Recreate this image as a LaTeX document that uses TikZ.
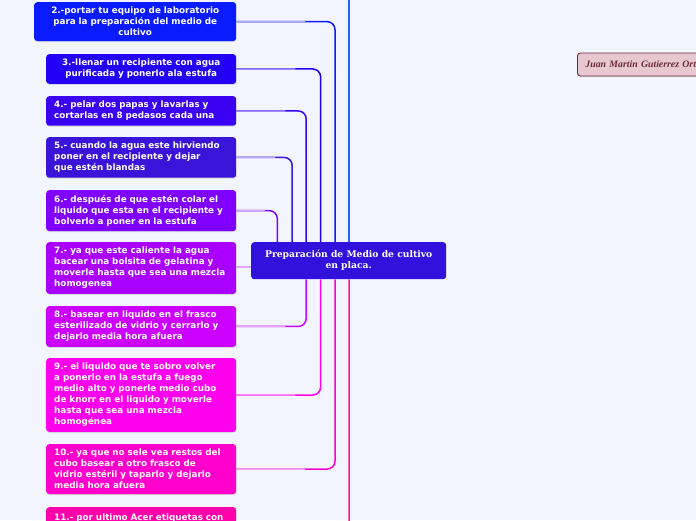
\documentclass[tikz,border=0pt]{standalone}
\usepackage{fontspec}
\setsansfont{DejaVu Sans}
\newfontfamily\titlefont{DejaVu Serif}
\newfontfamily\namefont{Liberation Serif}
\usepackage{tikz}
\usetikzlibrary{calc,shadows}

\definecolor{bgcol}{HTML}{F2F5FD}
\definecolor{c1}{HTML}{1A66FF}
\definecolor{c2}{HTML}{0B1BFF}
\definecolor{c3}{HTML}{2200F5}
\definecolor{c4}{HTML}{3A00F2}
\definecolor{c5}{HTML}{3A14D8}
\definecolor{c6}{HTML}{8000FF}
\definecolor{c7}{HTML}{AA00FF}
\definecolor{c8}{HTML}{CC00FF}
\definecolor{c9}{HTML}{FF00EE}
\definecolor{c10}{HTML}{FF00CC}
\definecolor{c11}{HTML}{FF00AA}
\definecolor{l11}{HTML}{FF1493}
\definecolor{maincol}{HTML}{3311DD}
\definecolor{namefill}{HTML}{E8C8D0}
\definecolor{nameline}{HTML}{6B2A3A}

\begin{document}
\begin{tikzpicture}[x=1pt,y=-1pt,
  stepbox/.style={fill=#1, text=white, rounded corners=3pt, anchor=north west,
    inner xsep=8pt, inner ysep=5pt, text width=174pt, align=left,
    font=\sffamily\bfseries\fontsize{8.8}{11}\selectfont,
    drop shadow={shadow xshift=0pt, shadow yshift=-1pt, opacity=.25}},
  link/.style={draw=#1, line width=1.5pt, rounded corners=8pt},
  fade/.style={draw=#1!35!white, line width=1.3pt}]
  \path[use as bounding box, clip] (0,0) rectangle (696,520);
  \fill[bgcol] (0,0) rectangle (696,520);

  % central topic
  \node[fill=maincol, text=white, rounded corners=3pt, minimum width=195pt,
    minimum height=37pt, align=center, font=\titlefont\bfseries\fontsize{9.2}{11}\selectfont,
    anchor=north west] (main) at (251,242) {Preparación de Medio de cultivo\\en placa.};

  % steps
  \node[stepbox=c2, text width=186pt, align=center] (s2) at (34,2)
    {2.-portar tu equipo de laboratorio\\para la preparación del medio de\\cultivo};
  \node[stepbox=c3, align=center] (s3) at (46,54)
    {3.-llenar un recipiente con agua\\purificada y ponerlo ala estufa};
  \node[stepbox=c4] (s4) at (46,96)
    {4.- pelar dos papas y lavarlas y\\cortarlas en 8 pedasos  cada una};
  \node[stepbox=c5] (s5) at (46,137)
    {5.- cuando la agua este hirviendo\\poner  en el recipiente  y dejar\\que estén blandas};
  \node[stepbox=c6] (s6) at (46,190)
    {6.- después de que estén colar el\\liquido que  esta en el recipiente y\\bolverlo a poner en la estufa};
  \node[stepbox=c7] (s7) at (46,242)
    {7.- ya que este caliente la agua\\bacear una bolsita de gelatina  y\\moverle hasta que sea una mezcla\\homogenea};
  \node[stepbox=c8] (s8) at (46,306)
    {8.- basear en liquido en el frasco\\esterilizado de vidrio y cerrarlo y\\dejarlo media hora afuera};
  \node[stepbox=c9] (s9) at (46,358)
    {9.- el liquido que te sobro  volver\\a  ponerlo en la estufa  a fuego\\medio alto y ponerle medio cubo\\de knorr en el liquido y moverle\\hasta que sea una mezcla\\homogénea};
  \node[stepbox=c10] (s10) at (46,444)
    {10.- ya que no sele vea restos del\\cubo basear  a otro frasco de\\vidrio  estéril y taparlo y dejarlo\\media hora afuera};
  \node[stepbox=c11, minimum height=50pt, text depth=30pt] (s11) at (46,507)
    {11.- por ultimo Acer etiquetas con};

  % author
  \node[fill=namefill, draw=nameline, line width=.9pt, rounded corners=3pt,
    anchor=west, text width=150pt, align=left, inner xsep=8pt, minimum height=23pt,
    text=nameline, font=\namefont\bfseries\itshape\fontsize{9.8}{11}\selectfont,
    drop shadow={shadow xshift=0pt, shadow yshift=-1pt, opacity=.25}]
    (author) at (577,64.5) {Juan Martin Gutierrez Ort};

  % connectors above
  \coordinate (s1) at (349,-5);
  \draw[link=c1] (s1) -- (s1 |- main.north);
  \foreach \n/\c/\d in {s2/c2/84, s3/c3/69.7, s4/c4/55.2, s5/c5/41.2, s6/c6/26.3}{
    \coordinate (t\n) at ([xshift=\d pt]main.north west);
    \draw[link=\c] (\n.east) -| (t\n);
    \draw[fade=\c] (\n.east) -- ($(\n.east)!.7!(t\n |- \n.east)$);
  }
  % connectors below
  \draw[fade=c7] (s7.east |- 0,267) -- (main.west |- 0,267);
  \foreach \n/\c/\d in {s8/c8/55.2, s9/c9/69.7, s10/c10/84, s11/l11/98}{
    \coordinate (b\n) at ([xshift=\d pt]main.south west);
    \draw[link=\c] (\n.east) -| (b\n);
    \draw[fade=\c] (\n.east) -- ($(\n.east)!.7!(b\n |- \n.east)$);
  }
\end{tikzpicture}
\end{document}
